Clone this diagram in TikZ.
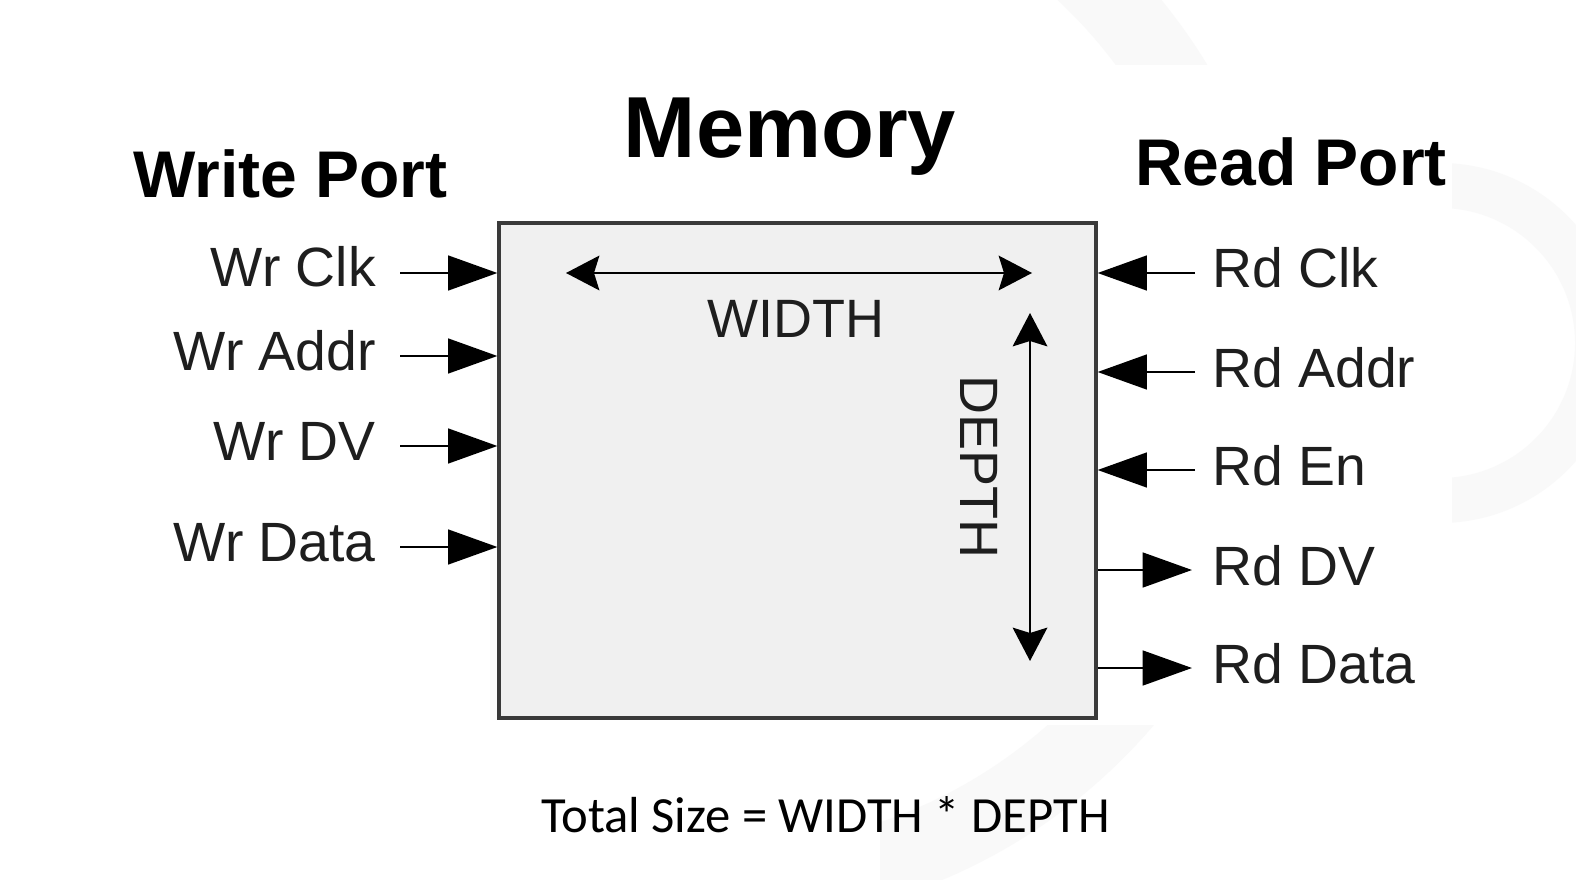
\documentclass[tikz,border=0pt]{standalone}
\usepackage{fontspec}
\setmainfont{Liberation Sans}
\newfontfamily\calibrifont{Carlito}
\usetikzlibrary{arrows.meta}
\definecolor{boxfill}{HTML}{F0F0F0}
\definecolor{boxline}{HTML}{3A3A3A}
\definecolor{ringgray}{HTML}{F9F9F9}
\definecolor{lbltext}{HTML}{1E1E1E}
\tikzset{
  lbl/.style={font=\fontsize{41.5}{48}\selectfont, inner sep=0pt, text=lbltext},
  ttl/.style={font=\fontsize{49.5}{58}\selectfont\bfseries, inner sep=0pt, text=black},
  dimtext/.style={font=\fontsize{40.5}{48}\selectfont, inner sep=0pt, text=lbltext},
  sig/.style={line width=2pt, draw=black, -{Triangle[length=37pt,width=26pt]}},
  dimarrow/.style={line width=1.6pt, draw=black, {Stealth[length=25pt,width=26pt,inset=4pt]}-{Stealth[length=25pt,width=26pt,inset=4pt]}},
  membox/.style={draw=boxline, fill=boxfill, line width=2.4pt, inner sep=0pt}
}
\begin{document}
\begin{tikzpicture}[x=0.75pt,y=-0.75pt]
\useasboundingbox (0,0) rectangle (1576,880);
\fill[white] (0,0) rectangle (1576,880);
% faint slide background rings
\begin{scope}
  \clip (880,0) rectangle (1576,880);
  \fill[ringgray, even odd rule] (723,358) circle[radius=566] (723,358) circle[radius=490];
\end{scope}
\fill[ringgray, even odd rule] (1440,343) circle[radius=180] (1440,343) circle[radius=135];
\fill[white] (880,65) rectangle (1452,725);

% memory block
\node[membox, minimum width=447.75pt, minimum height=371.25pt] (mem) at (797.5,470.5) {};

% titles
\node[font=\fontsize{65}{76}\selectfont\bfseries, inner sep=0pt, anchor=base] (tmem) at (790,158) {Memory};
\node[ttl, anchor=base west] (twp) at (133,198) {Write Port};
\node[ttl, anchor=base west] (trp) at (1135,186) {Read Port};

% write port
\coordinate (wclk) at (400,273);
\coordinate (waddr) at (400,356);
\coordinate (wdv) at (400,446);
\coordinate (wdata) at (400,547);
\draw[sig] (wclk) -- (wclk -| mem.west);
\draw[sig] (waddr) -- (waddr -| mem.west);
\draw[sig] (wdv) -- (wdv -| mem.west);
\draw[sig] (wdata) -- (wdata -| mem.west);
\node[lbl, anchor=base east] (lwclk) at (376,287) {Wr Clk};
\node[lbl, anchor=base east] (lwaddr) at (376,370) {Wr Addr};
\node[lbl, anchor=base east] (lwdv) at (376,460) {Wr DV};
\node[lbl, anchor=base east] (lwdata) at (376,561) {Wr Data};

% read port
\coordinate (rclk) at (1195,273);
\coordinate (raddr) at (1195,372);
\coordinate (ren) at (1195,470);
\coordinate (rdv) at (1192,570);
\coordinate (rdata) at (1192,668);
\draw[sig] (rclk) -- (rclk -| mem.east);
\draw[sig] (raddr) -- (raddr -| mem.east);
\draw[sig] (ren) -- (ren -| mem.east);
\draw[sig] (rdv -| mem.east) -- (rdv);
\draw[sig] (rdata -| mem.east) -- (rdata);
\node[lbl, anchor=base west] (lrclk) at (1212,288) {Rd Clk};
\node[lbl, anchor=base west] (lraddr) at (1212,387) {Rd Addr};
\node[lbl, anchor=base west] (lren) at (1212,485) {Rd En};
\node[lbl, anchor=base west] (lrdv) at (1212,585) {Rd DV};
\node[lbl, anchor=base west] (lrdata) at (1212,683) {Rd Data};

% dimensions
\coordinate (wl) at (566,273);
\coordinate (wr) at (1032,273);
\draw[dimarrow] (wl) -- (wr);
\node[dimtext, anchor=base] (twidth) at (796,338) {WIDTH};
\coordinate (dt) at (1030,313);
\coordinate (db) at (1030,661);
\draw[dimarrow] (dt) -- (db);
\node[dimtext, anchor=base, rotate=-90] (tdepth) at (960,467) {DEPTH};

% caption
\node[font=\calibrifont\fontsize{38}{45}\selectfont, inner sep=0pt, anchor=base] (cap) at (825.5,832) {Total Size = WIDTH * DEPTH};
\end{tikzpicture}
\end{document}
